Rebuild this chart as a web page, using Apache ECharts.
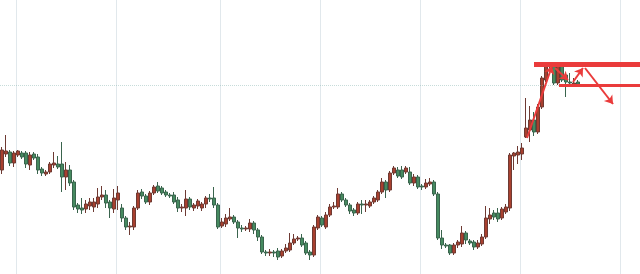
<!DOCTYPE html>
<html>
<head>
<meta charset="utf-8">
<script src="https://cdn.jsdelivr.net/npm/echarts@6/dist/echarts.min.js"></script>
<style>
html,body{margin:0;padding:0;background:#fff;}
#c{width:640px;height:274px;}
</style>
</head>
<body>
<div id="c"></div>
<script>
// number of category slots on the time axis (last ones are empty space on the right)
const slotCount = 160;
const categories = Array.from({length: slotCount}, (_, i) => 'T' + (i + 1));

// OHLC values (arbitrary price units)
const open = [104,120,122,111,119,121,121,109,120,117,105,100,102,109,110,110,97,104,92,69,
  66,65,68,67,70,77,79,72,65,74,66,56,47,47,66,82,78,72,81,88,
  86,82,79,79,74,66,66,75,66,68,66,70,76,76,69,48,50,55,57,52,
  46,45,45,51,44,37,22,21,22,23,18,23,24,31,35,36,31,22,19,46,
  56,47,59,67,67,80,74,69,64,61,70,69,68,72,74,82,92,84,101,104,
  104,102,102,91,97,88,87,90,92,80,36,29,29,21,29,30,41,33,32,27,
  30,37,55,61,61,56,62,66,118,119,120,137,144,154,142,167,194,208,209,191,
  209,199,192,190,192];
const close = [124,123,111,121,123,117,110,119,116,104,101,102,110,111,107,97,104,91,67,65,
  64,70,72,72,77,79,71,66,76,81,56,47,48,66,81,78,72,81,87,83,
  81,79,78,72,66,67,75,67,69,73,70,76,75,69,47,52,56,57,52,46,
  45,46,51,44,37,22,21,22,21,17,23,26,31,35,36,29,21,19,47,57,
  49,59,67,68,80,74,69,63,61,70,69,70,72,76,82,92,84,101,106,98,
  97,106,91,97,87,87,91,92,80,36,29,28,21,29,32,41,34,31,27,31,
  37,56,59,57,55,65,67,119,121,122,126,146,154,142,167,196,209,209,191,209,
  194,192,191,191,190];
const low = [100,117,108,107,117,115,106,104,114,100,98,98,100,106,105,82,84,88,64,61,
  60,61,64,62,66,74,66,56,61,64,52,44,39,44,64,75,70,69,79,81,
  79,77,76,70,62,62,58,64,63,65,63,66,72,66,45,46,47,53,50,36,
  42,43,42,40,33,20,18,18,17,14,16,21,22,29,33,27,19,14,17,44,
  47,45,57,65,65,72,67,60,58,59,60,62,66,70,72,80,76,82,99,96,
  95,100,89,88,85,84,85,88,78,34,25,26,19,19,26,27,30,29,24,25,
  28,35,50,54,52,54,60,63,104,110,114,136,132,138,140,165,192,203,189,189,
  192,177,188,188,188];
const high = [127,139,124,123,124,123,123,122,122,120,107,104,112,122,118,132,112,109,94,71,
  76,74,76,76,86,88,84,74,85,88,70,58,52,68,84,85,80,83,89,92,
  88,84,81,82,77,70,84,77,71,75,72,78,80,87,71,56,60,66,59,54,
  49,48,55,53,46,39,24,25,24,26,25,30,41,40,38,40,33,24,49,59,
  58,62,70,72,86,82,76,71,66,72,74,74,74,78,84,96,94,103,108,107,
  108,108,107,100,99,90,95,96,94,82,44,31,30,31,34,48,43,35,34,34,
  40,68,66,64,66,67,70,121,122,128,131,176,168,162,170,198,212,211,211,211,
  211,201,201,196,194];

// chart annotations (positions in slot index / price units)
const resistance = 210;     // upper red level
const support = 188.5;      // lower red level / last-price dotted line
const levelStarts = [133, 139.25];
const arrowStarts = [[131.25, 136], [138.25, 206], [142.75, 192], [145.75, 206]];
const arrowEnds   = [[137.5, 208], [141.5, 194], [145.25, 206], [152.75, 170]];
// vertical grid line slots
const gridSlots = [4, 29, 55, 80, 105, 130, 155];

const candles = open.map((o, i) => [o, close[i], low[i], high[i]]);
const xEnd = slotCount - 0.5;

const chart = echarts.init(document.getElementById('c'), null, {renderer: 'canvas'});
chart.setOption({
  animation: false,
  backgroundColor: '#ffffff',
  grid: {left: 0, right: 0, top: 0, bottom: 0},
  xAxis: [{
    type: 'category',
    data: categories,
    boundaryGap: true,
    axisLine: {show: false},
    axisTick: {show: false},
    axisLabel: {show: false},
    splitLine: {
      show: true,
      interval: (idx) => gridSlots.indexOf(idx) >= 0,
      lineStyle: {color: '#e1e8ec', width: 1}
    }
  }, {
    type: 'value',
    min: -0.5,
    max: xEnd,
    show: false
  }],
  yAxis: {
    type: 'value',
    min: 0,
    max: 274,
    show: false,
    splitLine: {show: false}
  },
  series: [{
    type: 'candlestick',
    data: candles,
    barWidth: 3,
    itemStyle: {
      color: '#a8402f',
      color0: '#468a60',
      borderColor: '#6e3a33',
      borderColor0: '#3a644d',
      borderWidth: 1
    }
  }, {
    type: 'lines',
    coordinateSystem: 'cartesian2d',
    xAxisIndex: 1,
    symbol: 'none',
    z: 5,
    data: [{
      coords: [[-0.5, support], [xEnd, support]],
      lineStyle: {color: '#8fb9b6', width: 1, type: 'dotted'}
    }]
  }, {
    type: 'lines',
    coordinateSystem: 'cartesian2d',
    xAxisIndex: 1,
    symbol: 'none',
    z: 6,
    data: [{
      coords: [[levelStarts[0], resistance], [xEnd, resistance]],
      lineStyle: {color: '#ea3b3b', width: 5, opacity: 1}
    }, {
      coords: [[levelStarts[1], support], [xEnd, support]],
      lineStyle: {color: '#ea3b3b', width: 3, opacity: 1}
    }]
  }, {
    type: 'lines',
    coordinateSystem: 'cartesian2d',
    xAxisIndex: 1,
    symbol: ['none', 'arrow'],
    symbolSize: 8,
    z: 7,
    lineStyle: {color: '#ea3b3b', width: 2, opacity: 1},
    data: arrowStarts.map((s, i) => ({coords: [s, arrowEnds[i]]}))
  }]
});
</script>
</body>
</html>
